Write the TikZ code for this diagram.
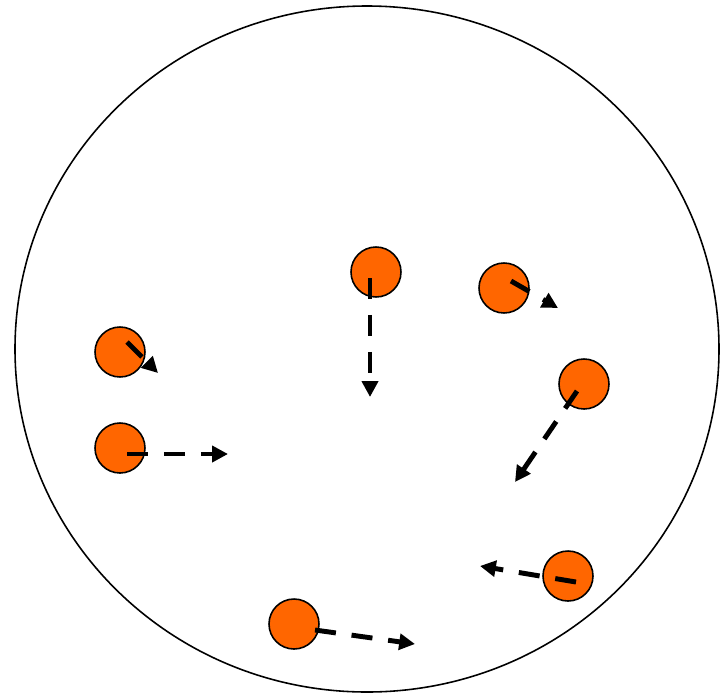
\documentclass[tikz,border=0pt]{standalone}
\usetikzlibrary{arrows.meta}
\definecolor{ballorange}{HTML}{FF6600}
\begin{document}
\begin{tikzpicture}[x=0.02cm, y=-0.02cm,
    ball/.style={circle, draw=black, line width=0.9pt, fill=ballorange, minimum size=1cm, inner sep=0pt},
    move/.style={line width=2.8pt, dash pattern=on 12pt off 9pt, -{Triangle[length=9pt, width=9pt]}}]
        \useasboundingbox (0,0) rectangle (726,697);
        \draw[line width=0.9pt] (367,349) ellipse [x radius=352, y radius=343];
        \foreach \i/\cx/\cy/\sx/\sy/\ex/\ey in {1/376/272/370/278/370/397, 2/504/288/511/281/558/308,
            3/584/384/577/391/515/482, 4/120/352/127/342/158/373, 5/120/448/127/454/228/454,
            6/568/576/576/582/480/566, 7/294/624/315/630/415/644} {
            \node[ball] (ball\i) at (\cx,\cy) {};
            \coordinate (start\i) at (\sx,\sy);
            \coordinate (end\i) at (\ex,\ey);
            \draw[move] (start\i) -- (end\i);
        }
    \end{tikzpicture}
\end{document}
